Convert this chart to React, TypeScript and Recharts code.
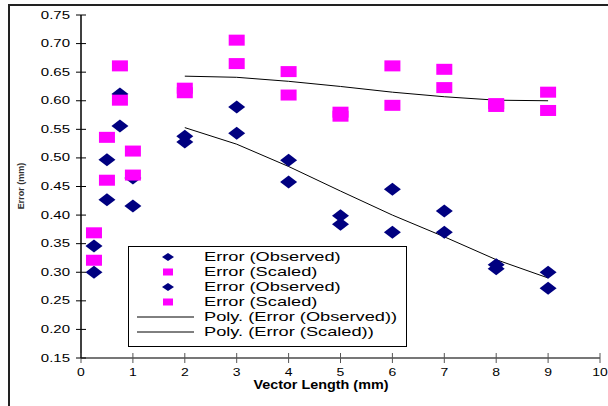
import React from "react";
import { ScatterChart, Scatter, XAxis, YAxis } from "recharts";

// vector lengths (mm) where errors were measured
const lengths = [0.25, 0.5, 0.75, 1, 2, 3, 4, 5, 6, 7, 8, 9];
const observedA = [0.346, 0.497, 0.612, 0.465, 0.538, 0.589, 0.496, 0.399, 0.445, 0.407, 0.313, 0.3];
const observedB = [0.3, 0.427, 0.556, 0.416, 0.528, 0.543, 0.458, 0.384, 0.37, 0.37, 0.306, 0.272];
const scaledA = [0.369, 0.536, 0.661, 0.512, 0.622, 0.706, 0.651, 0.58, 0.661, 0.655, 0.595, 0.615];
const scaledB = [0.321, 0.461, 0.601, 0.47, 0.614, 0.665, 0.61, 0.573, 0.592, 0.623, 0.59, 0.583];

// polynomial trend lines
const trendX = [2, 3, 4, 5, 6, 7, 8, 9];
const trendObserved = [0.553, 0.524, 0.485, 0.442, 0.4, 0.362, 0.322, 0.29];
const trendScaled = [0.643, 0.641, 0.634, 0.625, 0.615, 0.607, 0.601, 0.6];

const xTicks = [0, 1, 2, 3, 4, 5, 6, 7, 8, 9, 10];
const yTicks = [0.15, 0.2, 0.25, 0.3, 0.35, 0.4, 0.45, 0.5, 0.55, 0.6, 0.65, 0.7, 0.75];

const legendItems = [
  { label: "Error (Observed)", kind: "diamond" },
  { label: "Error (Scaled)", kind: "square" },
  { label: "Error (Observed)", kind: "diamond" },
  { label: "Error (Scaled)", kind: "square" },
  { label: "Poly. (Error (Observed))", kind: "line" },
  { label: "Poly. (Error (Scaled))", kind: "line" },
];

const NAVY = "#000080";
const MAGENTA = "#ff00ff";
const FONT = "'Liberation Sans', Arial, sans-serif";

const toPoints = (xs: number[], ys: number[]) => xs.map((x, i) => ({ x, y: ys[i] }));

const Diamond = (p: any) => (
  <polygon
    points={`${p.cx - 8.5},${p.cy} ${p.cx},${p.cy - 6.5} ${p.cx + 8.5},${p.cy} ${p.cx},${p.cy + 6.5}`}
    fill={NAVY}
  />
);

const Square = (p: any) => <rect x={p.cx - 8} y={p.cy - 5.5} width={16} height={11} fill={MAGENTA} />;

const NoDot = () => null;

const YTick = (props: any) => {
  const { x, y, payload } = props;
  return (
    <g>
      <line x1={x - 5} x2={x + 5} y1={y} y2={y} stroke="#000" />
      <text
        transform={`translate(${x - 11},${y}) scale(1.5,1)`}
        textAnchor="end"
        dominantBaseline="central"
        fontSize={10}
        fontFamily={FONT}
        fill="#000"
      >
        {Number(payload.value).toFixed(2)}
      </text>
    </g>
  );
};

const XTick = (props: any) => {
  const { x, y, payload } = props;
  return (
    <g>
      <line x1={x} x2={x} y1={y - 5} y2={y + 5} stroke="#555" />
      <text
        transform={`translate(${x},${y + 15}) scale(1.4,1)`}
        textAnchor="middle"
        dominantBaseline="central"
        fontSize={10}
        fontFamily={FONT}
        fill="#000"
      >
        {payload.value}
      </text>
    </g>
  );
};

function ChartLegend() {
  return (
    <div
      style={{
        position: "absolute",
        left: 118,
        top: 240,
        width: 277,
        height: 99,
        border: "1px solid #000",
        background: "#fff",
      }}
    >
      <svg width={277} height={99}>
        {legendItems.map((item, i) => {
          const cy = 10 + i * 15;
          return (
            <g key={i}>
              {item.kind === "diamond" && (
                <polygon points={`${33},${cy} ${39},${cy - 4} ${45},${cy} ${39},${cy + 4}`} fill={NAVY} />
              )}
              {item.kind === "square" && <rect x={34} y={cy - 3.5} width={10} height={7} fill={MAGENTA} />}
              {item.kind === "line" && <line x1={8} x2={65} y1={cy} y2={cy} stroke="#000" />}
              <text
                transform={`translate(75,${cy}) scale(1.52,1)`}
                dominantBaseline="central"
                fontSize={12}
                fontFamily={FONT}
                fill="#000"
              >
                {item.label}
              </text>
            </g>
          );
        })}
      </svg>
    </div>
  );
}

export default function App() {
  return (
    <div
      style={{
        position: "absolute",
        left: 8,
        top: 4,
        width: 598,
        height: 400,
        borderTop: "2px solid #222",
        borderLeft: "2px solid #222",
        background: "#fff",
      }}
    >
      <ScatterChart width={598} height={400} margin={{ top: 9, right: 8, bottom: 18, left: 0 }}>
        <XAxis
          type="number"
          dataKey="x"
          domain={[0, 10]}
          ticks={xTicks}
          interval={0}
          allowDataOverflow
          tickSize={0}
          tickMargin={0}
          tickLine={false}
          tick={<XTick />}
          height={30}
          axisLine={{ stroke: "#777", strokeWidth: 2 }}
          label={{
            content: (p: any) => (
              <text
                transform={`translate(${p.viewBox.x + 240},${p.viewBox.y + 27}) scale(1.15,1)`}
                textAnchor="middle"
                dominantBaseline="central"
                fontSize={12.5}
                fontWeight="bold"
                fontFamily={FONT}
                fill="#000"
              >
                Vector Length (mm)
              </text>
            ),
          }}
        />
        <YAxis
          type="number"
          dataKey="y"
          domain={[0.15, 0.75]}
          ticks={yTicks}
          interval={0}
          allowDataOverflow
          tickSize={0}
          tickMargin={0}
          tickLine={false}
          tick={<YTick />}
          width={71}
          axisLine={{ stroke: "#000", strokeWidth: 1.5 }}
          label={{
            content: () => (
              <text
                transform="translate(11,180) rotate(-90)"
                textAnchor="middle"
                dominantBaseline="central"
                fontSize={9}
                fontWeight="bold"
                fontFamily={FONT}
                fill="#333"
              >
                Error (mm)
              </text>
            ),
          }}
        />
        <Scatter
          name="Poly. (Error (Observed))"
          data={toPoints(trendX, trendObserved)}
          line={{ stroke: "#000", strokeWidth: 1 }}
          lineType="joint"
          shape={<NoDot />}
          isAnimationActive={false}
        />
        <Scatter
          name="Poly. (Error (Scaled))"
          data={toPoints(trendX, trendScaled)}
          line={{ stroke: "#000", strokeWidth: 1 }}
          lineType="joint"
          shape={<NoDot />}
          isAnimationActive={false}
        />
        <Scatter name="Error (Observed)" data={toPoints(lengths, observedA)} shape={<Diamond />} isAnimationActive={false} />
        <Scatter name="Error (Scaled)" data={toPoints(lengths, scaledA)} shape={<Square />} isAnimationActive={false} />
        <Scatter name="Error (Observed)" data={toPoints(lengths, observedB)} shape={<Diamond />} isAnimationActive={false} />
        <Scatter name="Error (Scaled)" data={toPoints(lengths, scaledB)} shape={<Square />} isAnimationActive={false} />
      </ScatterChart>
      <ChartLegend />
    </div>
  );
}
